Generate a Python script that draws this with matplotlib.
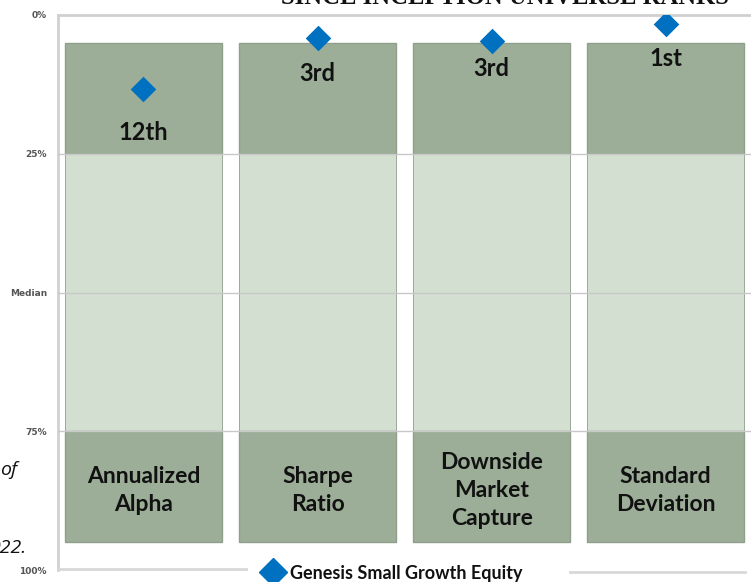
import matplotlib.pyplot as plt
from matplotlib.lines import Line2D

categories = ["Annualized\nAlpha", "Sharpe\nRatio", "Downside\nMarket\nCapture", "Standard\nDeviation"]
percentiles = [13.3, 4.1, 4.7, 1.6]
rank_labels = ["12th", "3rd", "3rd", "1st"]
label_pos = [21.1, 10.6, 9.7, 7.9]
band_edges = [5, 25, 75, 95]
ytick_vals = [0, 25, 50, 75, 100]
ytick_labels = ["0%", "25%", "Median", "75%", "100%"]
series_name = "Genesis Small Growth Equity"

DARK = "#9cae97"
LIGHT = "#d3dfd0"
EDGE = "#8f9f8c"
BLUE = "#0070c0"
W, H = 751, 582

fig = plt.figure(figsize=(W / 100, H / 100), dpi=100)
ax = fig.add_axes([58 / W, (H - 570) / H, (W - 58) / W, (570 - 15) / H])

x = list(range(len(categories)))
lo, mid_lo, mid_hi, hi = band_edges
ax.bar(x, [mid_lo - lo] * 4, bottom=lo, width=0.9, color=DARK, edgecolor=EDGE, linewidth=1, zorder=2)
ax.bar(x, [mid_hi - mid_lo] * 4, bottom=mid_lo, width=0.9, color=LIGHT, edgecolor=EDGE, linewidth=0.6, zorder=2)
ax.bar(x, [hi - mid_hi] * 4, bottom=mid_hi, width=0.9, color=DARK, edgecolor=EDGE, linewidth=1, zorder=2)

for v in ytick_vals[1:4]:
    ax.axhline(v, color="#c8c8c8", lw=1, zorder=3)

ax.scatter(x, percentiles, marker="D", s=170, color=BLUE, zorder=5, linewidths=0)

for xi, lab, yp in zip(x, rank_labels, label_pos):
    ax.text(xi, yp, lab, ha="center", va="center", fontsize=17, fontweight="bold",
            family="Lato", color="#111111", zorder=6)

for xi, cat in zip(x, categories):
    ax.text(xi, 85.7, cat, ha="center", va="center", fontsize=16.5, fontweight="bold",
            family="Lato", color="#111111", linespacing=1.4, zorder=6)

ax.set_xlim(-0.491, 3.49)
ax.set_ylim(100, 0)
ax.set_xticks([])
ax.set_yticks(ytick_vals)
ax.set_yticklabels(ytick_labels, fontsize=6.5, color="#555555", fontweight="bold", family="DejaVu Sans")
ax.tick_params(axis="y", length=0, pad=8)
for s in ["right", "bottom"]:
    ax.spines[s].set_visible(False)
ax.spines["left"].set_color("#d0d0d0")
ax.spines["left"].set_linewidth(2)
ax.spines["top"].set_color("#d0d0d0")
ax.spines["top"].set_linewidth(2)

# bottom frame line split by legend
fig.add_artist(Line2D([58 / W, 246 / W], [(H - 569) / H] * 2, color="#d8d8d8", lw=2))
fig.add_artist(Line2D([570 / W, 745 / W], [(H - 572) / H] * 2, color="#d8d8d8", lw=2))

# legend
fig.add_artist(Line2D([273 / W], [(H - 572) / H], marker="D", markersize=14, color=BLUE, lw=0))
fig.text(290 / W, (H - 574) / H, series_name, ha="left", va="center", fontsize=13,
         fontweight="bold", family="Lato", color="#111111")

# title (cut off at the top)
fig.text(505 / W, (H + 2) / H, "SINCE INCEPTION UNIVERSE RANKS", ha="center", va="center",
         fontsize=17.7, fontweight="bold", family="Liberation Serif", color="#111111")

# fragments of neighbouring text on the left edge
fig.text(17 / W, (H - 470) / H, "of", ha="right", va="center", fontsize=14,
         style="italic", family="Open Sans", color="#111111")
fig.text(27 / W, (H - 548) / H, "022.", ha="right", va="center", fontsize=14,
         style="italic", family="Open Sans", color="#111111")

fig.savefig("out.png", dpi=100)
